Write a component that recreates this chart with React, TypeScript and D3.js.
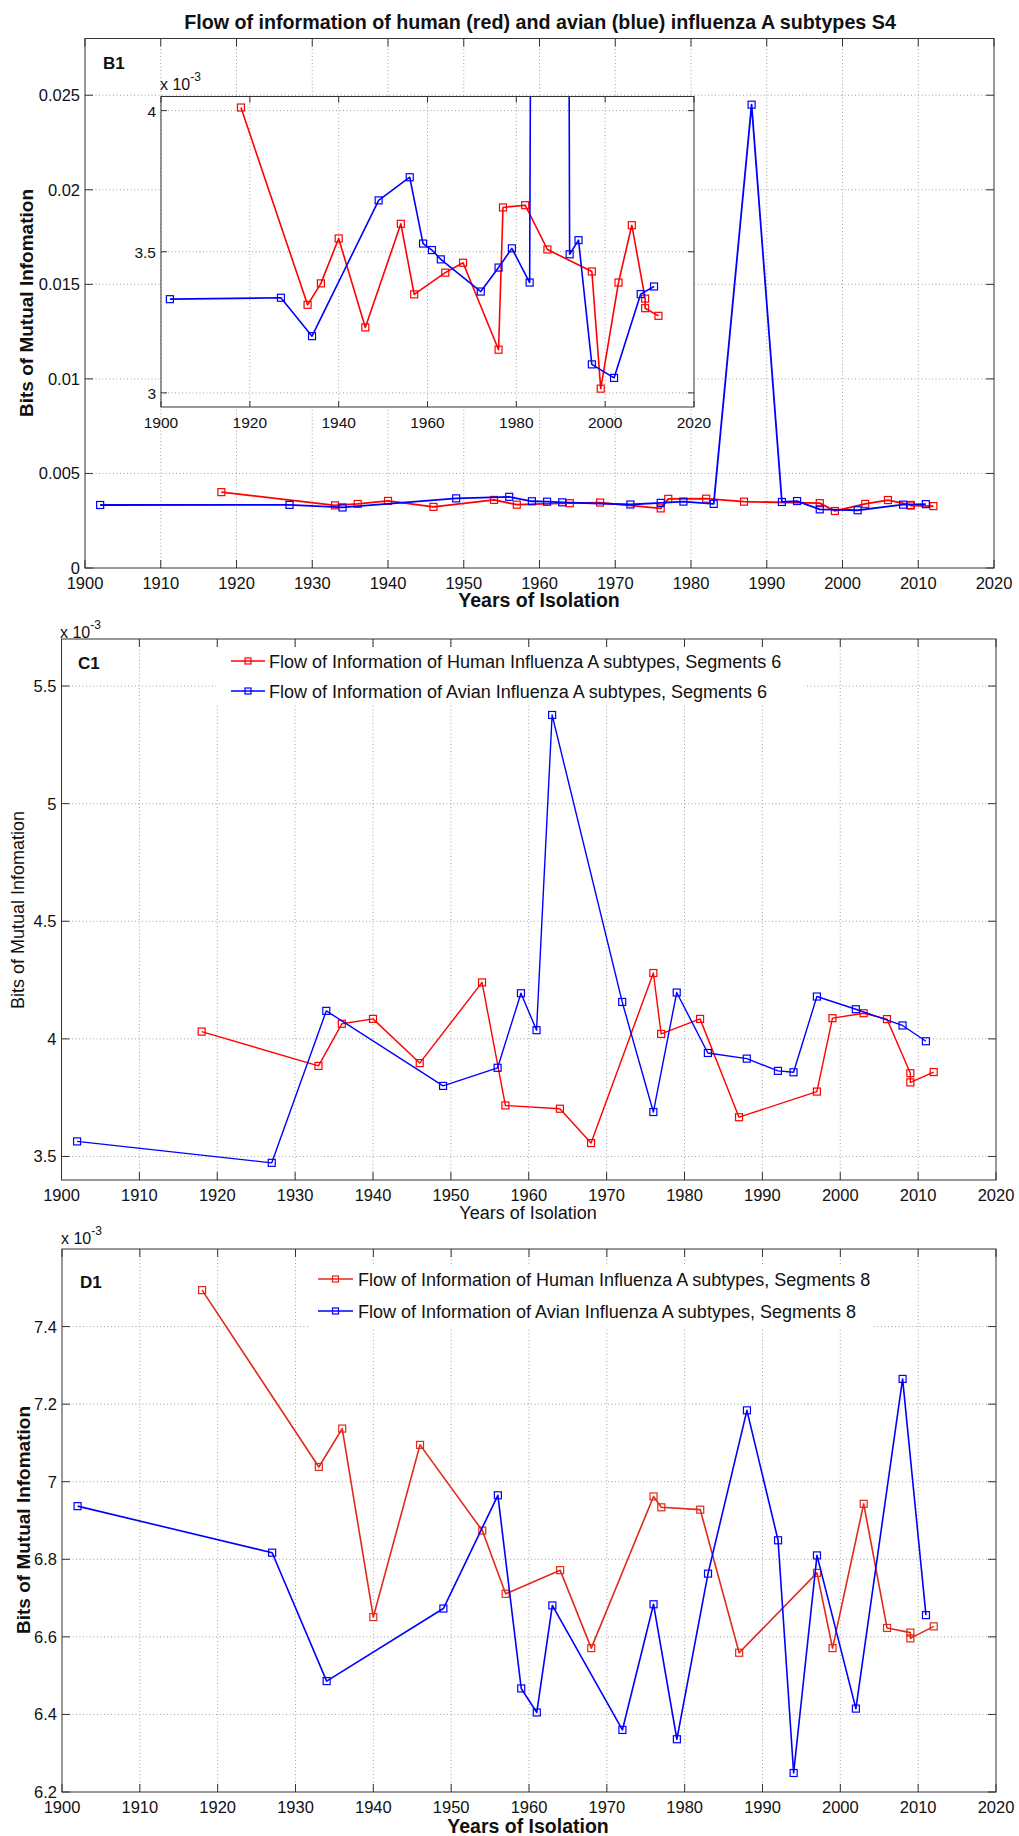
import React from 'react';
import * as d3 from 'd3';

// ---------- data (values in units of 1e-3 bits) ----------
const humanYears = [1918, 1933, 1936, 1940, 1946, 1954, 1957, 1964, 1968, 1976, 1977, 1982, 1987, 1997, 1999, 2003, 2006, 2009, 2009, 2012];
const avianYears = [1902, 1927, 1934, 1949, 1956, 1959, 1961, 1963, 1972, 1976, 1979, 1983, 1988, 1992, 1994, 1997, 2002, 2008, 2011];

const humanS4 = [4.011, 3.312, 3.388, 3.547, 3.232, 3.599, 3.349, 3.426, 3.461, 3.153, 3.657, 3.665, 3.508, 3.43, 3.015, 3.391, 3.594, 3.334, 3.3, 3.273];
const avianS4 = [3.332, 3.337, 3.201, 3.682, 3.764, 3.529, 3.506, 3.473, 3.359, 3.444, 3.512, 3.391, 24.5, 3.491, 3.541, 3.101, 3.053, 3.35, 3.377];

const humanS6 = [4.031, 3.885, 4.064, 4.085, 3.897, 4.24, 3.717, 3.703, 3.557, 4.28, 4.021, 4.085, 3.667, 3.776, 4.088, 4.109, 4.084, 3.854, 3.815, 3.859];
const avianS6 = [3.564, 3.473, 4.119, 3.8, 3.877, 4.194, 4.037, 5.377, 4.157, 3.689, 4.197, 3.94, 3.916, 3.864, 3.858, 4.18, 4.126, 4.057, 3.99];

const humanS8 = [7.494, 7.038, 7.137, 6.651, 7.095, 6.874, 6.711, 6.772, 6.571, 6.962, 6.934, 6.928, 6.559, 6.765, 6.571, 6.943, 6.623, 6.611, 6.596, 6.627];
const avianS8 = [6.937, 6.817, 6.486, 6.673, 6.965, 6.467, 6.405, 6.681, 6.36, 6.684, 6.336, 6.763, 7.184, 6.849, 6.249, 6.81, 6.415, 7.265, 6.656];

const yearTicks = [1900, 1910, 1920, 1930, 1940, 1950, 1960, 1970, 1980, 1990, 2000, 2010, 2020];
const insetYearTicks = [1900, 1920, 1940, 1960, 1980, 2000, 2020];
const b1Ticks = [0, 0.005, 0.01, 0.015, 0.02, 0.025];
const b1TickLabels = ['0', '0.005', '0.01', '0.015', '0.02', '0.025'];
const insetTicks = [3, 3.5, 4];
const c1Ticks = [3.5, 4, 4.5, 5, 5.5];
const d1Ticks = [6.2, 6.4, 6.6, 6.8, 7, 7.2, 7.4];

const titleText = 'Flow of information of human (red) and avian (blue) influenza A subtypes S4';
const legendC1 = ['Flow of Information of Human Influenza A subtypes, Segments 6', 'Flow of Information of Avian Influenza A subtypes, Segments 6'];
const legendD1 = ['Flow of Information of Human Influenza A subtypes, Segments 8', 'Flow of Information of Avian Influenza A subtypes, Segments 8'];

const RED = '#ff0000';
const BLUE = '#0000ff';
const D1RED = '#e02a1a';
const FONT = '"Liberation Sans", Arial, Helvetica, sans-serif';

type Series = { xs: number[]; ys: number[]; color: string; width?: number };

type AxesProps = {
  id: string;
  left: number; right: number; top: number; bottom: number;
  xDomain: [number, number]; yDomain: [number, number];
  xTicks: number[]; yTicks: number[];
  yLabels?: string[];
  series: Series[];
  fontSize?: number;
  tickLen?: number;
  markerSize?: number;
  legend?: { items: string[]; colors: string[]; box: [number, number, number, number]; lx0: number; lx1: number; tx: number; ys: number[]; fontSize: number };
};

function Axes(p: AxesProps) {
  const fs = p.fontSize ?? 16.5;
  const tl = p.tickLen ?? 8;
  const ms = p.markerSize ?? 7;
  const x = d3.scaleLinear().domain(p.xDomain).range([p.left, p.right]);
  const y = d3.scaleLinear().domain(p.yDomain).range([p.bottom, p.top]);
  const gridStyle = { stroke: '#9a9a9a', strokeWidth: 0.9, strokeDasharray: '1 2.5', fill: 'none' };
  const tickStyle = { stroke: '#333', strokeWidth: 1 };
  return (
    <g fontFamily={FONT}>
      <rect x={p.left} y={p.top} width={p.right - p.left} height={p.bottom - p.top} fill="#fff" />
      {p.xTicks.map((t) => {
        const xx = x(t);
        if (Math.abs(xx - p.left) < 1 || Math.abs(xx - p.right) < 1) return null;
        return <line key={'gx' + t} x1={xx} x2={xx} y1={p.top} y2={p.bottom} style={gridStyle} />;
      })}
      {p.yTicks.map((t) => {
        const yy = y(t);
        if (Math.abs(yy - p.top) < 1 || Math.abs(yy - p.bottom) < 1) return null;
        return <line key={'gy' + t} x1={p.left} x2={p.right} y1={yy} y2={yy} style={gridStyle} />;
      })}
      {p.xTicks.map((t) => (
        <g key={'tx' + t}>
          <line x1={x(t)} x2={x(t)} y1={p.bottom} y2={p.bottom - tl} style={tickStyle} />
          <line x1={x(t)} x2={x(t)} y1={p.top} y2={p.top + tl} style={tickStyle} />
          <text x={x(t)} y={p.bottom + 21} textAnchor="middle" fontSize={fs} fill="#111">{t}</text>
        </g>
      ))}
      {p.yTicks.map((t, i) => (
        <g key={'ty' + t}>
          <line x1={p.left} x2={p.left + tl} y1={y(t)} y2={y(t)} style={tickStyle} />
          <line x1={p.right} x2={p.right - tl} y1={y(t)} y2={y(t)} style={tickStyle} />
          <text x={p.left - 5} y={y(t) + 6} textAnchor="end" fontSize={fs} fill="#111">{p.yLabels ? p.yLabels[i] : String(t)}</text>
        </g>
      ))}
      <clipPath id={p.id}>
        <rect x={p.left} y={p.top} width={p.right - p.left} height={p.bottom - p.top} />
      </clipPath>
      <g clipPath={`url(#${p.id})`}>
        {p.series.map((s, si) => {
          const pts = s.xs.map((v, i) => [v, s.ys[i]] as [number, number]);
          const path = d3.line<[number, number]>().x((d) => x(d[0])).y((d) => y(d[1]))(pts) || '';
          return (
            <g key={'s' + si}>
              <path d={path} fill="none" stroke={s.color} strokeWidth={s.width ?? 1.6} strokeLinejoin="round" />
              {pts.map((d, i) => (
                <rect key={i} x={x(d[0]) - ms / 2} y={y(d[1]) - ms / 2} width={ms} height={ms} fill="none" stroke={s.color} strokeWidth={1.2} />
              ))}
            </g>
          );
        })}
      </g>
      {p.legend && (
        <g>
          <rect x={p.legend.box[0]} y={p.legend.box[1]} width={p.legend.box[2]} height={p.legend.box[3]} fill="#fff" />
          {p.legend.items.map((txt, i) => {
            const ly = p.legend!.ys[i];
            const c = p.legend!.colors[i];
            const mx = (p.legend!.lx0 + p.legend!.lx1) / 2;
            return (
              <g key={'lg' + i}>
                <line x1={p.legend!.lx0} x2={p.legend!.lx1} y1={ly} y2={ly} stroke={c} strokeWidth={1.6} />
                <rect x={mx - 3} y={ly - 3} width={6} height={6} fill="none" stroke={c} strokeWidth={1.2} />
                <text x={p.legend!.tx} y={ly + 6.5} fontSize={p.legend!.fontSize} fill="#111">{txt}</text>
              </g>
            );
          })}
        </g>
      )}
      <rect x={p.left} y={p.top} width={p.right - p.left} height={p.bottom - p.top} fill="none" stroke="#333" strokeWidth={1} />
    </g>
  );
}

function Exponent({ x, y }: { x: number; y: number }) {
  return (
    <text x={x} y={y} fontFamily={FONT} fontSize={16} fill="#111">
      x 10<tspan dy={-9} fontSize={12}>-3</tspan>
    </text>
  );
}

function YLabel({ x, y, bold, size }: { x: number; y: number; bold: boolean; size: number }) {
  return (
    <text transform={`translate(${x},${y}) rotate(-90)`} textAnchor="middle" fontFamily={FONT} fontWeight={bold ? 'bold' : 'normal'} fontSize={size} fill="#111">
      Bits of Mutual Infomation
    </text>
  );
}

export default function App() {
  const milli = (arr: number[]) => arr.map((v) => v / 1000);
  return (
    <svg width={1019} height={1836} viewBox="0 0 1019 1836" style={{ position: 'absolute', left: 0, top: 0, background: '#fff' }}>
      <rect x={0} y={0} width={1019} height={1836} fill="#fff" />
      {/* ---------- B1 ---------- */}
      <text x={540} y={29} textAnchor="middle" fontFamily={FONT} fontWeight="bold" fontSize={19.7} fill="#111">{titleText}</text>
      <Axes
        id="clipB1" left={85} right={994} top={38.5} bottom={568}
        xDomain={[1900, 2020]} yDomain={[0, 0.028]}
        xTicks={yearTicks} yTicks={b1Ticks} yLabels={b1TickLabels}
        series={[
          { xs: humanYears, ys: milli(humanS4), color: RED, width: 1.8 },
          { xs: avianYears, ys: milli(avianS4), color: BLUE, width: 1.8 },
        ]}
      />
      <text x={103} y={69} fontFamily={FONT} fontWeight="bold" fontSize={17} fill="#111">B1</text>
      <Axes
        id="clipInset" left={161} right={694} top={96.5} bottom={407}
        xDomain={[1900, 2020]} yDomain={[2.95, 4.05]}
        xTicks={insetYearTicks} yTicks={insetTicks}
        fontSize={15.5} tickLen={6}
        series={[
          { xs: humanYears, ys: humanS4, color: RED, width: 1.6 },
          { xs: avianYears, ys: avianS4, color: BLUE, width: 1.6 },
        ]}
      />
      <Exponent x={160} y={90} />
      <text x={539} y={607} textAnchor="middle" fontFamily={FONT} fontWeight="bold" fontSize={19.5} fill="#111">Years of Isolation</text>
      <YLabel x={33} y={303} bold size={19} />

      {/* ---------- C1 ---------- */}
      <Axes
        id="clipC1" left={61.5} right={996} top={639} bottom={1180}
        xDomain={[1900, 2020]} yDomain={[3.4, 5.7]}
        xTicks={yearTicks} yTicks={c1Ticks}
        series={[
          { xs: humanYears, ys: humanS6, color: RED, width: 1.4 },
          { xs: avianYears, ys: avianS6, color: BLUE, width: 1.4 },
        ]}
        legend={{ items: legendC1, colors: [RED, BLUE], box: [216, 647, 588, 57], lx0: 231, lx1: 265, tx: 269, ys: [661, 691], fontSize: 18 }}
      />
      <text x={78} y={669} fontFamily={FONT} fontWeight="bold" fontSize={17} fill="#111">C1</text>
      <Exponent x={60} y={638} />
      <text x={528} y={1219} textAnchor="middle" fontFamily={FONT} fontSize={18} fill="#111">Years of Isolation</text>
      <YLabel x={24} y={910} bold={false} size={18} />

      {/* ---------- D1 ---------- */}
      <Axes
        id="clipD1" left={62} right={996} top={1249} bottom={1792}
        xDomain={[1900, 2020]} yDomain={[6.2, 7.6]}
        xTicks={yearTicks} yTicks={d1Ticks}
        series={[
          { xs: humanYears, ys: humanS8, color: D1RED, width: 1.6 },
          { xs: avianYears, ys: avianS8, color: BLUE, width: 1.6 },
        ]}
        legend={{ items: legendD1, colors: [D1RED, BLUE], box: [308, 1265, 566, 63], lx0: 318, lx1: 353, tx: 358, ys: [1279, 1311], fontSize: 18 }}
      />
      <text x={80} y={1288} fontFamily={FONT} fontWeight="bold" fontSize={17} fill="#111">D1</text>
      <Exponent x={61} y={1244} />
      <text x={528} y={1833} textAnchor="middle" fontFamily={FONT} fontWeight="bold" fontSize={19.5} fill="#111">Years of Isolation</text>
      <YLabel x={30} y={1520} bold size={19} />
    </svg>
  );
}
